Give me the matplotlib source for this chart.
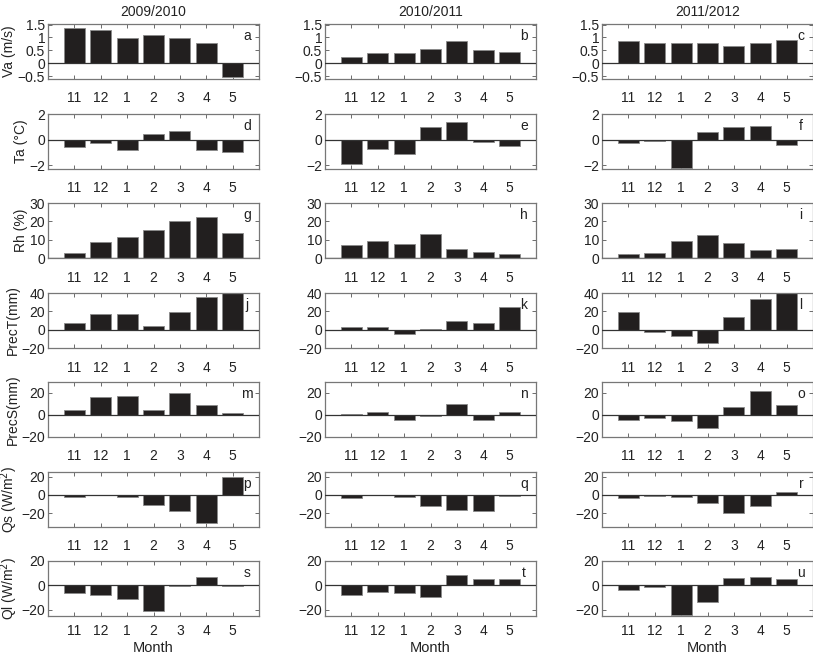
import matplotlib.pyplot as plt
import numpy as np

plt.rcParams['font.family'] = ['Liberation Sans', 'DejaVu Sans']

months = ['11', '12', '1', '2', '3', '4', '5']
seasons = ['2009/2010', '2010/2011', '2011/2012']

# one row per season
va = [[1.36, 1.27, 0.98, 1.1, 0.98, 0.78, -0.52],
      [0.23, 0.42, 0.4, 0.55, 0.85, 0.52, 0.43],
      [0.88, 0.8, 0.8, 0.78, 0.66, 0.78, 0.89]]
ta = [[-0.6, -0.27, -0.82, 0.42, 0.68, -0.8, -0.95],
      [-1.9, -0.74, -1.12, 1.0, 1.35, -0.19, -0.48],
      [-0.26, -0.1, -2.2, 0.6, 0.97, 1.1, -0.45]]
rh = [[2.9, 8.9, 11.3, 15.5, 20, 22.5, 13.8],
      [7.1, 9.1, 7.5, 13.1, 4.7, 3.1, 2.4],
      [2.2, 2.7, 9.5, 12.7, 8, 4.5, 4.9]]
prect = [[7.5, 17.3, 16.9, 4.3, 19.4, 35.3, 42],
         [2.5, 2.5, -4.7, 0.7, 10, 7.2, 25.2],
         [19.5, -2.8, -6.5, -14.5, 13.5, 33, 42]]
precs = [[4.2, 16, 17, 4.5, 20, 9.4, 1.5],
         [1, 2.7, -4.5, -0.6, 10, -4.5, 2.4],
         [-4.2, -2.7, -5.5, -11.8, 7.6, 22, 9.4]]
qs = [[-2, -0.4, -2, -10.7, -17.5, -30.7, 20],
      [-3.9, -0.4, -2, -11.8, -17, -17.5, -0.7],
      [-3.6, -0.7, -2.1, -8.9, -20, -12.5, 3.2]]
ql = [[-6.5, -7.6, -10.8, -20.5, -0.5, 6.8, -0.3],
      [-7.6, -5.1, -5.9, -9.5, 8.4, 5.1, 4.9],
      [-3.5, -1.1, -24, -13.5, 6.2, 7.3, 5.1]]

variables = [va, ta, rh, prect, precs, qs, ql]
ylabels = ['Va (m/s)', 'Ta (\u00b0C)', 'Rh (%)', 'PrecT(mm)', 'PrecS(mm)',
           'Qs (W/m$^2$)', 'Ql (W/m$^2$)']
ylims = [(-0.6, 1.52), (-2.3, 2.0), (0, 30), (-20, 40), (-20, 30), (-35, 25), (-25, 20)]
yticks = [[-0.5, 0, 0.5, 1, 1.5], [-2, 0, 2], [0, 10, 20, 30], [-20, 0, 20, 40],
          [-20, 0, 20], [-20, 0, 20], [-20, 0, 20]]
letters = 'abcdefghijklmnopqrstu'

W, H = 813, 658
fig = plt.figure(figsize=(W / 100, H / 100), dpi=100)

lefts = [48, 325, 602]
tops = [24, 114, 203, 293, 382, 472, 561]
aw, ah = 211, 55
x = np.arange(1, 8)

def fmt(v):
    return ('%g' % v).replace('-', '\u2212')

for r in range(7):
    for c in range(3):
        ax = fig.add_axes([lefts[c] / W, 1 - (tops[r] + ah) / H, aw / W, ah / H])
        ax.bar(x, variables[r][c], width=0.8, color='#221f1f',
               edgecolor='#8a8a8a', linewidth=0.6, zorder=2)
        ax.axhline(0, color='#333333', lw=0.9, zorder=3)
        ax.set_xlim(0, 8)
        ax.set_ylim(*ylims[r])
        ax.set_xticks(x)
        ax.set_xticklabels(months)
        ax.set_yticks(yticks[r])
        ax.set_yticklabels([fmt(v) for v in yticks[r]])
        ax.tick_params(direction='in', top=True, right=True, length=3,
                       width=0.6, color='#555555', labelsize=10,
                       labelcolor='#222222', pad=2)
        ax.tick_params(axis='x', pad=9 if r < 6 else 6)
        for s in ax.spines.values():
            s.set_color('#777777')
            s.set_linewidth(0.9)
        ax.text(1 - 12 / aw, 1 - 12 / ah, letters[r * 3 + c], transform=ax.transAxes,
                ha='center', va='center', fontsize=10, color='#222222')
        if c == 0:
            ax.set_ylabel(ylabels[r], fontsize=10, color='#222222', labelpad=1)
        if r == 0:
            ax.set_title(seasons[c], fontsize=10, color='#222222', pad=6)
        if r == 6:
            ax.set_xlabel('Month', fontsize=10.5, color='#222222', labelpad=2)

fig.savefig('out.png', dpi=100)
